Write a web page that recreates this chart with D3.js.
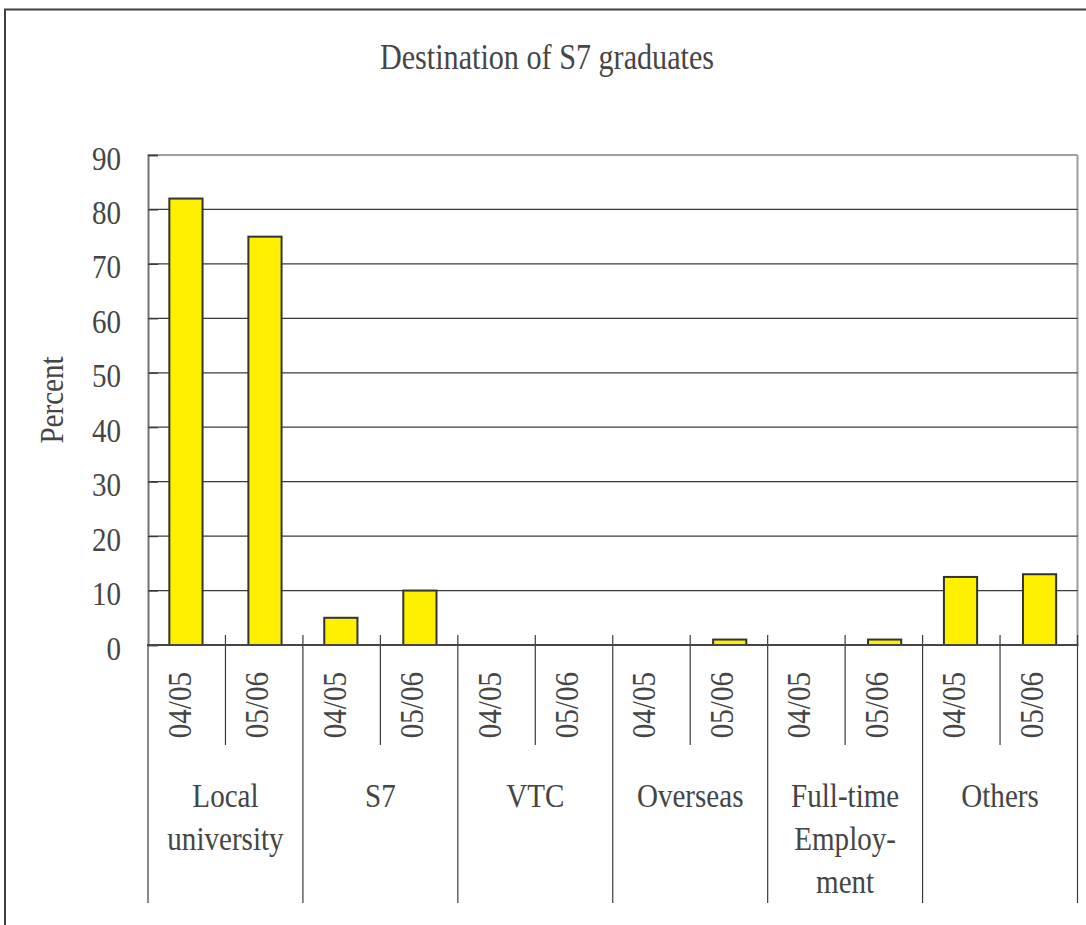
<!DOCTYPE html>
<html><head><meta charset="utf-8">
<script src="https://cdn.jsdelivr.net/npm/d3@7"></script>
<style>body{margin:0;background:#fff}svg{display:block}</style>
</head><body>
<svg id="c" width="1086" height="925"></svg>
<script>
const title = "Destination of S7 graduates";
const yLabel = "Percent";
const categories = ["Local university","S7","VTC","Overseas","Full-time Employment","Others"];
const categoryLines = [["Local","university"],["S7"],["VTC"],["Overseas"],["Full-time","Employ-","ment"],["Others"]];
const years = ["04/05","05/06"];
const values0405 = [82, 5, 0, 0, 0, 12.5];
const values0506 = [75, 10, 0, 1, 1, 13];
const yTicks = [0,10,20,30,40,50,60,70,80,90];

const svg = d3.select("#c");
const W = 1086, H = 925;
const L = 148, R = 1077.5, T = 155, B = 645;
const FS = 34, SX = 0.855, TXT = "#454545", FONT = "'Liberation Serif','Times New Roman',serif";

const y = d3.scaleLinear().domain([0, 90]).range([B, T]);
const x0 = d3.scaleBand().domain(categories).range([L, R]).padding(0);
const x1 = d3.scaleBand().domain(years).range([0, x0.bandwidth()]).paddingInner(0.58).paddingOuter(0.27);
const xs = d3.scaleBand().domain(years).range([0, x0.bandwidth()]).padding(0);

// outer frame
svg.append("rect").attr("x",5).attr("y",9.5).attr("width",W+20).attr("height",H+20)
  .attr("fill","none").attr("stroke","#404040").attr("stroke-width",2);

function txt(g, s, x, yy, rot, anchor, fs, sx){
  return g.append("text").attr("transform",`translate(${x},${yy})${rot?` rotate(${rot})`:""} scale(${sx||SX},1)`)
    .attr("text-anchor",anchor||"middle").attr("font-family",FONT).attr("font-size",fs||FS)
    .attr("fill",TXT).text(s);
}

// title
txt(svg, title, 547, 69, 0, "middle", 35, 0.862);
// y label
txt(svg, yLabel, 63, (T+B)/2, -90);

// plot border (top/right light)
svg.append("line").attr("x1",L).attr("x2",R).attr("y1",T).attr("y2",T).attr("stroke","#a59c9c").attr("stroke-width",2);
svg.append("line").attr("x1",R).attr("x2",R).attr("y1",T).attr("y2",B).attr("stroke","#a59c9c").attr("stroke-width",2);

// gridlines
svg.append("g").selectAll("line").data(yTicks.filter(d=>d>0 && d<90)).join("line")
  .attr("x1",L).attr("x2",R).attr("y1",d=>y(d)).attr("y2",d=>y(d))
  .attr("stroke","#3a3a3a").attr("stroke-width",1.2);

// y axis
const ya = svg.append("g").attr("transform",`translate(${L},0)`)
  .call(d3.axisLeft(y).tickValues(yTicks).tickSize(-10).tickPadding(0).tickFormat(d3.format("d")));
ya.select(".domain").attr("stroke","#7a7070").attr("stroke-width",2);
ya.selectAll(".tick line").attr("stroke","#3a3a3a").attr("stroke-width",1.2);
ya.selectAll(".tick text").remove();
ya.selectAll(".tick").each(function(d){
  txt(d3.select(this), String(d), -27, 14, 0, "end");
});

// x axis separators
const xa = svg.append("g");
categories.forEach((c,i)=>{
  const gx = x0(c);
  xa.append("line").attr("x1",gx).attr("x2",gx).attr("y1",i===0?B:B-10).attr("y2",903)
    .attr("stroke","#3a3a3a").attr("stroke-width",1.2);
  const mx = gx + xs("05/06");
  xa.append("line").attr("x1",mx).attr("x2",mx).attr("y1",B-10).attr("y2",745)
    .attr("stroke","#3a3a3a").attr("stroke-width",1.2);
  years.forEach(yr=>{
    txt(xa, yr, gx + xs(yr) + xs.bandwidth()/2 + 4, 672, -90, "end");
  });
  categoryLines[i].forEach((ln,k)=>{
    txt(xa, ln, gx + x0.bandwidth()/2, 807 + k*43);
  });
});
xa.append("line").attr("x1",R).attr("x2",R).attr("y1",B-10).attr("y2",903)
  .attr("stroke","#3a3a3a").attr("stroke-width",1.2);

// bars
const rows = [];
categories.forEach((c,i)=>{
  rows.push({c, yr:"04/05", v:values0405[i]});
  rows.push({c, yr:"05/06", v:values0506[i]});
});
svg.append("g").selectAll("rect").data(rows).join("rect")
  .attr("x",d=>x0(d.c)+x1(d.yr)).attr("width",x1.bandwidth())
  .attr("y",d=>y(d.v)).attr("height",d=>y(0)-y(d.v))
  .attr("fill",d=>d.v>0?"#fff000":"none").attr("stroke",d=>d.v>0?"#333":"none").attr("stroke-width",2);

// zero line
svg.append("line").attr("x1",L-1).attr("x2",R+1).attr("y1",B).attr("y2",B)
  .attr("stroke","#4a4444").attr("stroke-width",2);
</script>
</body></html>
